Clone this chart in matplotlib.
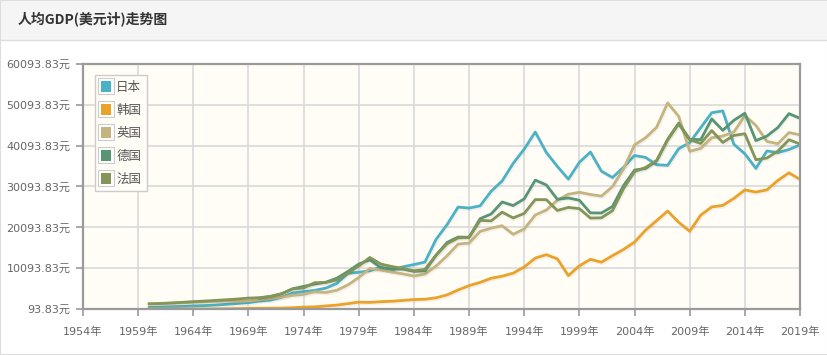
import numpy as np
import matplotlib
matplotlib.use("Agg")
import matplotlib.pyplot as plt
import matplotlib.transforms as mtransforms
from matplotlib.patches import Patch, Rectangle
from matplotlib.lines import Line2D
from matplotlib.legend_handler import HandlerBase

plt.rcParams['font.family'] = ['DejaVu Sans', 'Noto Sans CJK SC']

years = list(range(1960, 2020))

# GDP per capita, current US$
japan = [479, 563, 633, 717, 835, 919, 1058, 1229, 1451, 1669,
         2037, 2272, 2967, 3997, 4354, 4659, 5197, 6335, 8821, 9105,
         9463, 10361, 9578, 10425, 10984, 11585, 17112, 20745, 25052, 24813,
         25359, 28925, 31465, 35766, 39269, 43440, 38437, 35022, 31903, 36027,
         38532, 33846, 32289, 34808, 37689, 37218, 35434, 35275, 39339, 40855,
         44508, 48168, 48603, 40454, 38109, 34524, 38794, 38387, 39159, 40247]
korea = [158, 94, 106, 146, 124, 109, 133, 161, 199, 244,
         279, 301, 324, 407, 563, 616, 834, 1055, 1405, 1784,
         1715, 1883, 1993, 2199, 2413, 2482, 2835, 3555, 4749, 5817,
         6610, 7637, 8127, 8885, 10385, 12565, 13403, 12398, 8282, 10672,
         12257, 11561, 13165, 14673, 16496, 19403, 21744, 24086, 21350, 19144,
         23087, 25096, 25467, 27180, 29253, 28737, 29274, 31601, 33447, 31846]
uk = [1398, 1472, 1526, 1613, 1748, 1873, 1986, 2058, 1952, 2100,
      2348, 2650, 3030, 3426, 3665, 4300, 4138, 4681, 5977, 7805,
      10032, 9599, 9146, 8691, 8179, 8652, 10611, 13119, 15987, 16239,
      19095, 19901, 20487, 18389, 19709, 23123, 24332, 26734, 28214, 28670,
      28150, 27744, 30056, 34419, 40290, 42030, 44599, 50566, 47287, 38713,
      39436, 42038, 42463, 43445, 47440, 45071, 41146, 40572, 43307, 42747]
germany_years = list(range(1970, 2020))
germany = [2761, 3188, 3805, 5046, 5639, 6208, 6640, 7624, 9257, 11102,
           12138, 10209, 9914, 9865, 9313, 9430, 13243, 16388, 17711, 17673,
           22220, 23357, 26310, 25426, 27076, 31658, 30487, 26965, 27289, 26726,
           23636, 23608, 25205, 30310, 34107, 34520, 36354, 41640, 45612, 41650,
           41572, 46645, 43858, 46299, 48024, 41323, 42443, 44553, 47939, 46795]
france = [1334, 1428, 1567, 1733, 1905, 2032, 2193, 2355, 2539, 2762,
          2869, 3170, 3831, 4998, 5236, 6539, 6596, 7190, 8814, 10620,
          12713, 11105, 10496, 10034, 9449, 9801, 13261, 16071, 17504, 17652,
          21794, 21675, 23814, 22400, 23508, 26890, 26871, 24228, 24974, 24674,
          22364, 22434, 24177, 29569, 33741, 34760, 36470, 41508, 45413, 41575,
          40638, 43791, 40875, 42592, 43009, 36652, 37063, 38781, 41557, 40494]

names = ['日本', '韩国', '英国', '德国', '法国']
colors = ['#4bb2c5', '#eaa228', '#c5b47f', '#579575', '#839557']
series = [(years, japan), (years, korea), (years, uk), (germany_years, germany), (years, france)]

y_ticks = [93.83 + 10000 * i for i in range(7)]
x_ticks = list(range(1954, 2020, 5))


class SwatchHandler(HandlerBase):
    # coloured square inside a thin grey box, like the jqplot legend
    def create_artists(self, legend, orig_handle, xdescent, ydescent, width, height, fontsize, trans):
        s = min(width, height) + 4
        x0 = -xdescent + (width - s) / 2
        y0 = -ydescent + (height - s) / 2
        outer = Rectangle((x0, y0), s, s, facecolor='white', edgecolor='#cccccc', lw=0.8, transform=trans)
        inner = Rectangle((x0 + 2, y0 + 2), s - 4, s - 4, facecolor=orig_handle.get_facecolor(),
                          edgecolor='none', transform=trans)
        return [outer, inner]


fig = plt.figure(figsize=(8.28, 3.55), dpi=100)
W, H = 828, 355

# panel frame and header
fig.patches.append(Rectangle((0, 0), 1, 1, transform=fig.transFigure,
                             facecolor='white', edgecolor='#dddddd', lw=1.5, zorder=-5))
fig.patches.append(Rectangle((1 / W, 1 - 40 / H), 1 - 2 / W, 39 / H, transform=fig.transFigure,
                             facecolor='#f5f5f5', edgecolor='none', zorder=-4))
fig.lines.append(Line2D([0, 1], [1 - 40 / H, 1 - 40 / H], transform=fig.transFigure,
                        color='#dddddd', lw=1))
fig.text(18 / W, 1 - 20 / H, '人均GDP(美元计)走势图', family=['Noto Sans CJK SC'],
         fontsize=10, fontweight='bold', color='#333333', va='center', ha='left')

ax = fig.add_axes([83 / W, 1 - 309 / H, (800 - 83) / W, (309 - 64) / H])
ax.set_facecolor('#fffdf6')

shadow = ax.transData + mtransforms.ScaledTranslation(1 / 100, -1.5 / 100, fig.dpi_scale_trans)
for (xs, ys), c, n in zip(series, colors, names):
    ax.plot(xs, ys, color='#000000', alpha=0.05, lw=2.2, transform=shadow)
    ax.plot(xs, ys, color=c, lw=2.0, label=n)

ax.set_xlim(1954, 2019)
ax.set_ylim(y_ticks[0], y_ticks[-1])
ax.set_xticks(x_ticks)
ax.set_xticklabels([f'{y}年' for y in x_ticks])
ax.set_yticks(y_ticks)
ax.set_yticklabels([f'{v:.2f}元' for v in y_ticks])
ax.grid(True, color='#d9d9d9', lw=1.2)
ax.set_axisbelow(True)
ax.tick_params(colors='#999999', labelcolor='#666666', labelsize=8, length=5, width=1.2)
ax.tick_params(axis='x', pad=8)
ax.tick_params(axis='y', pad=4)
for s in ax.spines.values():
    s.set_color('#9a9a9a')
    s.set_linewidth(1.6)

handles = [Patch(facecolor=c) for c in colors]
leg = ax.legend(handles, names, loc='upper left', bbox_to_anchor=(12 / 717, 1 - 11 / 245),
                handler_map={Patch: SwatchHandler()},
                frameon=True, fancybox=False, edgecolor='#cccccc', facecolor='#fffdf6',
                framealpha=1, fontsize=9, labelspacing=0.8, handlelength=0.9,
                handleheight=0.9, handletextpad=0.35, borderpad=0.45, borderaxespad=0)
leg.get_frame().set_linewidth(1)
for t in leg.get_texts():
    t.set_color('#555555')
    t.set_family(['Noto Sans CJK SC'])

fig.savefig('out.png', dpi=100)
